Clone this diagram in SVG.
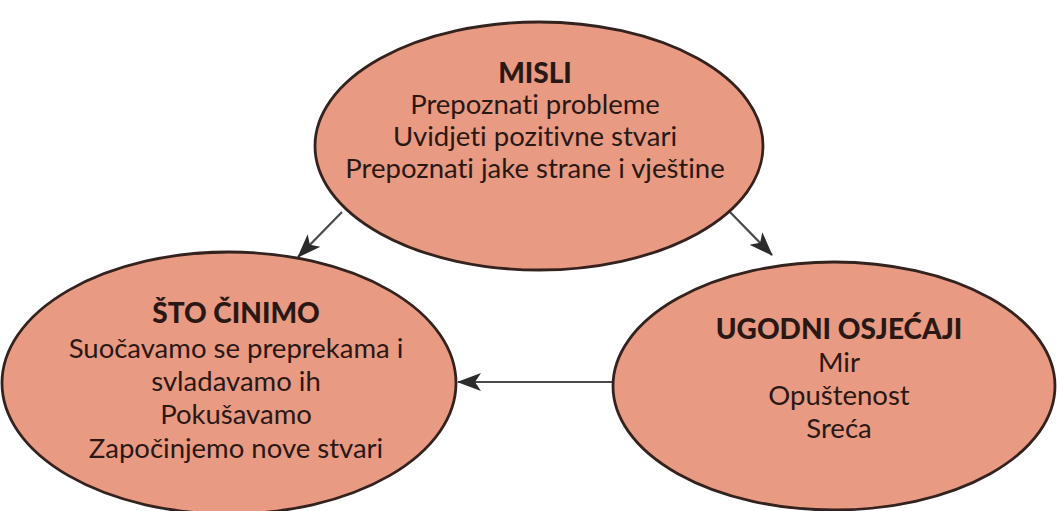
<svg xmlns="http://www.w3.org/2000/svg" width="1057" height="511" viewBox="0 0 1057 511">
<style>
.node ellipse{fill:#E99A83;stroke:#34221e;stroke-width:2.8}
.t{font-family:Lato,"Open Sans","Liberation Sans",sans-serif;font-size:27.5px;fill:#2a1814;text-anchor:middle;font-variant-ligatures:none}
.h{font-weight:900;font-size:28px}
.conn line{stroke:#4a4a4a;stroke-width:2.2}
</style>
<defs>
<marker id="ah" markerWidth="24" markerHeight="20" refX="23" refY="10" orient="auto" markerUnits="userSpaceOnUse" viewBox="0 0 24 20">
<path d="M0,1 L24,10 L0,19 L6,10 Z" fill="#2b2b2b"/>
</marker>
</defs>
<rect width="1057" height="511" fill="#fff"/>
<g class="conn">
<line x1="342" y1="212" x2="298" y2="257" marker-end="url(#ah)"/>
<line x1="728" y1="210" x2="772" y2="255" marker-end="url(#ah)"/>
<line x1="613" y1="382" x2="458" y2="382" marker-end="url(#ah)"/>
</g>
<g id="misli" class="node">
<ellipse cx="539" cy="146" rx="224" ry="124"/>
<text class="t h" x="535" y="83">MISLI</text>
<text class="t" x="535" y="114">Prepoznati probleme</text>
<text class="t" x="535" y="146">Uvidjeti pozitivne stvari</text>
<text class="t" x="535" y="178">Prepoznati jake strane i vještine</text>
</g>
<g id="sto-cinimo" class="node">
<ellipse cx="229" cy="383" rx="227" ry="131"/>
<text class="t h" x="236" y="323">ŠTO ČINIMO</text>
<text class="t" x="236" y="358">Suočavamo se preprekama i</text>
<text class="t" x="236" y="391">svladavamo ih</text>
<text class="t" x="236" y="424">Pokušavamo</text>
<text class="t" x="236" y="458">Započinjemo nove stvari</text>
</g>
<g id="ugodni-osjecaji" class="node">
<ellipse cx="834" cy="386" rx="221" ry="124"/>
<text class="t h" x="839" y="339">UGODNI OSJEĆAJI</text>
<text class="t" x="839" y="372">Mir</text>
<text class="t" x="839" y="405">Opuštenost</text>
<text class="t" x="839" y="438">Sreća</text>
</g>
</svg>
